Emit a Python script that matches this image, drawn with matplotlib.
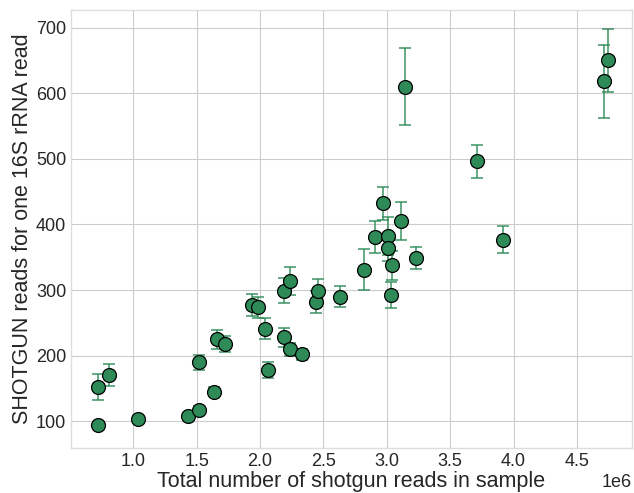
import matplotlib
matplotlib.use('Agg')
import matplotlib.pyplot as plt
import numpy as np

# total shotgun reads per sample (x, in millions) and reads per 16S read (y) with error
total_reads = [0.72, 0.725, 0.805, 1.04, 1.434, 1.52, 1.52, 1.64, 1.66, 1.72,
               1.94, 1.985, 2.04, 2.06, 2.19, 2.19, 2.24, 2.24, 2.33, 2.44,
               2.455, 2.63, 2.82, 2.91, 2.97, 3.01, 3.01, 3.03, 3.04, 3.11,
               3.145, 3.23, 3.71, 3.92, 4.71, 4.745]
reads_per_16s = [152, 95, 171, 104, 108, 118, 190, 145, 225, 218,
                 277, 274, 241, 178, 299, 228, 314, 210, 202, 282,
                 299, 290, 331, 381, 432, 382, 364, 293, 338, 405,
                 610, 349, 496, 377, 618, 650]
err = [20, 3, 17, 3, 5, 5, 11, 7, 15, 12,
       17, 16, 16, 12, 19, 14, 21, 10, 8, 17,
       18, 16, 31, 25, 25, 29, 20, 20, 22, 29,
       59, 17, 25, 20, 55, 48]

x = np.array(total_reads) * 1e6
y = np.array(reads_per_16s)

plt.style.use('seaborn-v0_8-whitegrid')
plt.rcParams['font.family'] = ['Liberation Sans', 'DejaVu Sans']

fig = plt.figure(figsize=(6.34, 4.93), dpi=100)
ax = fig.add_axes([0.112, 0.092, 0.885, 0.888])

ax.errorbar(x, y, yerr=err, fmt='none', ecolor='seagreen', elinewidth=1.2,
            capsize=4, capthick=1.2, alpha=0.85, zorder=2)
ax.plot(x, y, 'o', markersize=10, markerfacecolor='seagreen',
        markeredgecolor='black', markeredgewidth=0.9, zorder=3)

ax.set_xlim(0.509e6, 4.935e6)
ax.set_ylim(60, 727)
ax.set_xticks([1.0e6, 1.5e6, 2.0e6, 2.5e6, 3.0e6, 3.5e6, 4.0e6, 4.5e6])
ax.set_yticks([100, 200, 300, 400, 500, 600, 700])
ax.tick_params(labelsize=13, colors='#262626')
ax.xaxis.get_offset_text().set_fontsize(13)
for s in ax.spines.values():
    s.set_visible(True)
    s.set_color('#dddddd')
ax.set_xlabel("Total number of shotgun reads in sample", fontsize=15.5,
              color='#262626', labelpad=1)
ax.set_ylabel("SHOTGUN reads for one 16S rRNA read", fontsize=15.5,
              color='#262626', labelpad=2)

fig.savefig('out.png', dpi=100)
